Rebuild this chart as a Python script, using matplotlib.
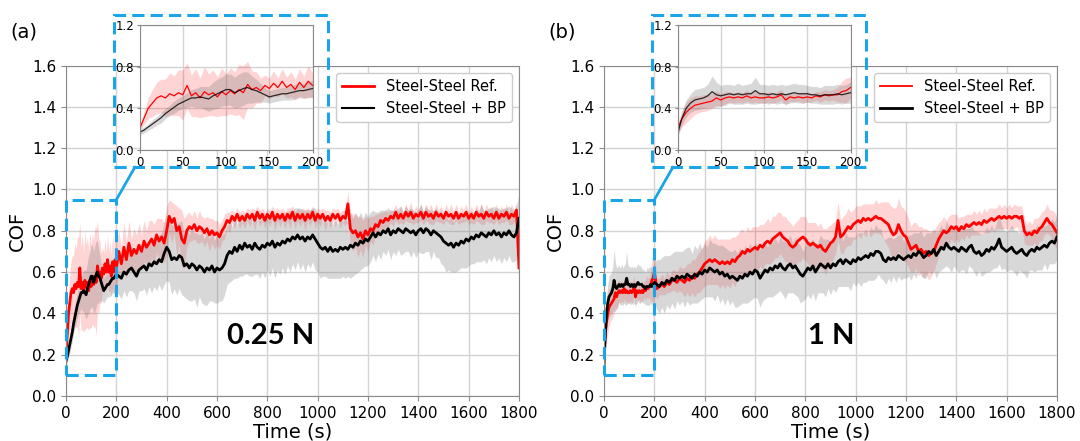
import numpy as np
import matplotlib.pyplot as plt
from matplotlib.patches import Rectangle, ConnectionPatch
from matplotlib.lines import Line2D

# sampling times: every 5 s up to 200 s, then every 10 s
t = np.concatenate([np.arange(0, 201, 5), np.arange(210, 1801, 10)])
n_zoom = 41  # points with t <= 200 (shown in the insets)

# ---- 0.25 N ----
ref_025 = [
    0.20, 0.30, 0.40, 0.45, 0.50, 0.52, 0.50, 0.54, 0.52, 0.55,
    0.53, 0.62, 0.52, 0.55, 0.50, 0.56, 0.53, 0.55, 0.51, 0.56,
    0.53, 0.57, 0.54, 0.58, 0.55, 0.63, 0.58, 0.60, 0.57, 0.62,
    0.59, 0.64, 0.60, 0.66, 0.60, 0.63, 0.58, 0.65, 0.60, 0.66,
    0.62,
    0.70, 0.64, 0.72, 0.66, 0.74, 0.68, 0.71, 0.69, 0.73, 0.70,
    0.75, 0.72, 0.74, 0.76, 0.73, 0.78, 0.75, 0.77, 0.74, 0.80,
    0.87, 0.84, 0.86, 0.80, 0.82, 0.76, 0.74, 0.80, 0.82, 0.81,
    0.83, 0.80, 0.82, 0.81, 0.79, 0.81, 0.78, 0.80, 0.78, 0.79,
    0.77, 0.80, 0.82, 0.85, 0.84, 0.87, 0.85, 0.88, 0.85, 0.87,
    0.85, 0.88, 0.86, 0.88, 0.85, 0.89, 0.86, 0.88, 0.85, 0.88,
    0.86, 0.89, 0.85, 0.88, 0.86, 0.88, 0.85, 0.88, 0.86, 0.89,
    0.85, 0.88, 0.86, 0.88, 0.85, 0.88, 0.86, 0.89, 0.85, 0.88,
    0.86, 0.88, 0.85, 0.87, 0.85, 0.88, 0.86, 0.88, 0.85, 0.87,
    0.86, 0.93, 0.81, 0.79, 0.80, 0.77, 0.79, 0.76, 0.80, 0.78,
    0.81, 0.80, 0.83, 0.82, 0.85, 0.84, 0.86, 0.85, 0.87, 0.86,
    0.89, 0.86, 0.88, 0.86, 0.89, 0.87, 0.89, 0.86, 0.88, 0.87,
    0.89, 0.86, 0.89, 0.87, 0.88, 0.86, 0.89, 0.87, 0.88, 0.86,
    0.89, 0.87, 0.88, 0.86, 0.89, 0.86, 0.88, 0.87, 0.89, 0.86,
    0.88, 0.86, 0.89, 0.87, 0.88, 0.86, 0.89, 0.87, 0.88, 0.86,
    0.89, 0.86, 0.88, 0.87, 0.89, 0.86, 0.88, 0.87, 0.90, 0.62,
]
ref_025_sd = [
    0.02, 0.06, 0.10, 0.13, 0.15, 0.16, 0.18, 0.20, 0.19, 0.22,
    0.24, 0.22, 0.20, 0.23, 0.19, 0.24, 0.20, 0.22, 0.19, 0.23,
    0.20, 0.22, 0.21, 0.24, 0.26, 0.22, 0.18, 0.15, 0.12, 0.10,
    0.10, 0.12, 0.09, 0.12, 0.10, 0.12, 0.10, 0.13, 0.11, 0.15,
    0.12,
    0.10, 0.08, 0.12, 0.09, 0.11, 0.08, 0.10, 0.09, 0.11, 0.08,
    0.10, 0.08, 0.11, 0.09, 0.10, 0.08, 0.11, 0.09, 0.10, 0.12,
    0.08, 0.10, 0.07, 0.12, 0.09, 0.14, 0.12, 0.08, 0.07, 0.06,
    0.07, 0.06, 0.08, 0.06, 0.07, 0.06, 0.08, 0.06, 0.07, 0.06,
    0.06, 0.05, 0.06, 0.04, 0.05, 0.03, 0.04, 0.03, 0.04, 0.03,
    0.04, 0.03, 0.04, 0.03, 0.05, 0.03, 0.04, 0.03, 0.04, 0.03,
    0.04, 0.03, 0.05, 0.03, 0.04, 0.03, 0.04, 0.03, 0.05, 0.03,
    0.04, 0.03, 0.04, 0.03, 0.05, 0.03, 0.04, 0.03, 0.04, 0.03,
    0.04, 0.03, 0.05, 0.03, 0.04, 0.03, 0.04, 0.03, 0.04, 0.03,
    0.04, 0.06, 0.08, 0.09, 0.08, 0.10, 0.08, 0.09, 0.07, 0.08,
    0.06, 0.07, 0.05, 0.06, 0.04, 0.05, 0.04, 0.04, 0.03, 0.04,
    0.04, 0.03, 0.04, 0.03, 0.04, 0.03, 0.05, 0.03, 0.04, 0.03,
    0.04, 0.03, 0.04, 0.03, 0.05, 0.03, 0.04, 0.03, 0.04, 0.03,
    0.04, 0.03, 0.05, 0.03, 0.04, 0.03, 0.04, 0.03, 0.04, 0.03,
    0.04, 0.03, 0.04, 0.03, 0.05, 0.03, 0.04, 0.03, 0.04, 0.03,
    0.04, 0.03, 0.04, 0.03, 0.04, 0.03, 0.05, 0.03, 0.04, 0.03,
]
bp_025 = [
    0.17, 0.19, 0.22, 0.25, 0.28, 0.31, 0.35, 0.38, 0.41, 0.44,
    0.46, 0.48, 0.50, 0.50, 0.51, 0.50, 0.49, 0.52, 0.54, 0.56,
    0.58, 0.58, 0.55, 0.57, 0.59, 0.60, 0.58, 0.57, 0.55, 0.53,
    0.51, 0.52, 0.53, 0.54, 0.54, 0.55, 0.56, 0.57, 0.57, 0.58,
    0.59,
    0.58, 0.57, 0.60, 0.59, 0.61, 0.62, 0.60, 0.58, 0.61, 0.62,
    0.63, 0.61, 0.64, 0.63, 0.65, 0.64, 0.66, 0.65, 0.69, 0.72,
    0.70, 0.66, 0.67, 0.66, 0.68, 0.67, 0.63, 0.64, 0.62, 0.64,
    0.63, 0.61, 0.63, 0.62, 0.60, 0.62, 0.61, 0.63, 0.60, 0.62,
    0.61, 0.62, 0.64, 0.68, 0.70, 0.69, 0.72, 0.70, 0.73, 0.71,
    0.74, 0.72, 0.73, 0.71, 0.74, 0.72, 0.71, 0.73, 0.72, 0.74,
    0.73, 0.75, 0.72, 0.74, 0.73, 0.75, 0.74, 0.76, 0.75, 0.77,
    0.76, 0.78, 0.76, 0.77, 0.75, 0.77, 0.76, 0.78, 0.76, 0.74,
    0.72, 0.71, 0.72, 0.70, 0.72, 0.70, 0.71, 0.70, 0.72, 0.71,
    0.72, 0.71, 0.73, 0.72, 0.74, 0.73, 0.75, 0.74, 0.76, 0.75,
    0.77, 0.79, 0.77, 0.79, 0.78, 0.80, 0.79, 0.81, 0.78, 0.80,
    0.79, 0.81, 0.80, 0.79, 0.81, 0.80, 0.79, 0.80, 0.78, 0.80,
    0.81, 0.79, 0.81, 0.80, 0.78, 0.80, 0.79, 0.78, 0.77, 0.75,
    0.74, 0.73, 0.74, 0.72, 0.74, 0.73, 0.75, 0.74, 0.76, 0.75,
    0.77, 0.76, 0.78, 0.77, 0.79, 0.78, 0.77, 0.79, 0.78, 0.80,
    0.78, 0.79, 0.77, 0.79, 0.78, 0.80, 0.78, 0.77, 0.79, 0.86,
]
bp_025_sd = [
    0.02, 0.03, 0.03, 0.04, 0.04, 0.05, 0.05, 0.05, 0.06, 0.06,
    0.06, 0.07, 0.08, 0.09, 0.10, 0.11, 0.12, 0.13, 0.14, 0.14,
    0.15, 0.15, 0.15, 0.16, 0.16, 0.15, 0.13, 0.11, 0.09, 0.07,
    0.06, 0.06, 0.06, 0.06, 0.06, 0.07, 0.07, 0.07, 0.07, 0.08,
    0.08,
    0.09, 0.10, 0.09, 0.11, 0.10, 0.11, 0.10, 0.12, 0.10, 0.11,
    0.11, 0.12, 0.11, 0.13, 0.12, 0.13, 0.12, 0.14, 0.15, 0.16,
    0.15, 0.17, 0.15, 0.17, 0.16, 0.18, 0.15, 0.17, 0.16, 0.18,
    0.16, 0.18, 0.15, 0.17, 0.16, 0.18, 0.15, 0.17, 0.15, 0.17,
    0.15, 0.16, 0.15, 0.14, 0.15, 0.13, 0.15, 0.13, 0.15, 0.13,
    0.15, 0.13, 0.15, 0.13, 0.15, 0.13, 0.14, 0.13, 0.15, 0.13,
    0.15, 0.13, 0.15, 0.13, 0.14, 0.13, 0.15, 0.13, 0.15, 0.13,
    0.15, 0.13, 0.15, 0.13, 0.15, 0.13, 0.14, 0.13, 0.15, 0.14,
    0.15, 0.13, 0.14, 0.13, 0.15, 0.13, 0.14, 0.13, 0.15, 0.13,
    0.15, 0.13, 0.16, 0.14, 0.15, 0.13, 0.14, 0.12, 0.13, 0.12,
    0.12, 0.11, 0.12, 0.10, 0.12, 0.10, 0.11, 0.10, 0.12, 0.10,
    0.11, 0.10, 0.12, 0.10, 0.11, 0.10, 0.12, 0.10, 0.11, 0.10,
    0.12, 0.10, 0.11, 0.10, 0.12, 0.10, 0.12, 0.11, 0.13, 0.12,
    0.14, 0.12, 0.14, 0.12, 0.14, 0.12, 0.13, 0.12, 0.14, 0.12,
    0.13, 0.12, 0.13, 0.12, 0.14, 0.12, 0.13, 0.12, 0.13, 0.12,
    0.13, 0.12, 0.13, 0.12, 0.13, 0.12, 0.13, 0.12, 0.13, 0.12,
]

# ---- 1 N ----
ref_1 = [
    0.20, 0.30, 0.36, 0.40, 0.43, 0.44, 0.45, 0.46, 0.47, 0.50,
    0.48, 0.50, 0.51, 0.50, 0.51, 0.50, 0.52, 0.50, 0.51, 0.50,
    0.50, 0.51, 0.50, 0.51, 0.53, 0.48, 0.51, 0.50, 0.51, 0.50,
    0.51, 0.50, 0.52, 0.51, 0.53, 0.52, 0.53, 0.53, 0.56, 0.57,
    0.60,
    0.52, 0.53, 0.54, 0.53, 0.55, 0.54, 0.56, 0.56, 0.55, 0.57,
    0.56, 0.55, 0.57, 0.56, 0.58, 0.57, 0.59, 0.60, 0.62, 0.64,
    0.65, 0.66, 0.65, 0.66, 0.65, 0.64, 0.65, 0.64, 0.65, 0.64,
    0.66, 0.65, 0.67, 0.68, 0.70, 0.69, 0.71, 0.70, 0.71, 0.72,
    0.71, 0.73, 0.72, 0.74, 0.75, 0.74, 0.76, 0.77, 0.78, 0.79,
    0.77, 0.76, 0.75, 0.73, 0.72, 0.73, 0.75, 0.76, 0.77, 0.76,
    0.74, 0.73, 0.74, 0.73, 0.72, 0.73, 0.71, 0.70, 0.72, 0.74,
    0.75, 0.77, 0.85, 0.77, 0.78, 0.80, 0.82, 0.81, 0.83, 0.84,
    0.85, 0.84, 0.86, 0.85, 0.86, 0.85, 0.86, 0.87, 0.86, 0.86,
    0.85, 0.84, 0.83, 0.80, 0.78, 0.79, 0.83, 0.80, 0.78, 0.77,
    0.74, 0.71, 0.72, 0.73, 0.70, 0.71, 0.69, 0.70, 0.68, 0.69,
    0.70, 0.73, 0.76, 0.78, 0.80, 0.79, 0.80, 0.82, 0.81, 0.82,
    0.80, 0.82, 0.81, 0.83, 0.82, 0.83, 0.84, 0.83, 0.84, 0.83,
    0.85, 0.84, 0.85, 0.86, 0.85, 0.86, 0.87, 0.86, 0.87, 0.86,
    0.87, 0.86, 0.87, 0.87, 0.86, 0.87, 0.80, 0.78, 0.79, 0.78,
    0.80, 0.79, 0.81, 0.82, 0.84, 0.86, 0.84, 0.83, 0.81, 0.79,
]
ref_1_sd = [
    0.05, 0.08, 0.10, 0.10, 0.09, 0.08, 0.08, 0.08, 0.07, 0.07,
    0.06, 0.06, 0.05, 0.05, 0.05, 0.05, 0.05, 0.05, 0.05, 0.05,
    0.05, 0.05, 0.05, 0.05, 0.05, 0.05, 0.04, 0.04, 0.04, 0.05,
    0.05, 0.04, 0.04, 0.05, 0.05, 0.05, 0.05, 0.07, 0.10, 0.12,
    0.10,
    0.05, 0.04, 0.05, 0.04, 0.05, 0.04, 0.05, 0.05, 0.05, 0.06,
    0.06, 0.07, 0.07, 0.08, 0.08, 0.09, 0.09, 0.10, 0.10, 0.11,
    0.11, 0.12, 0.11, 0.12, 0.11, 0.12, 0.11, 0.12, 0.11, 0.12,
    0.11, 0.12, 0.11, 0.12, 0.11, 0.10, 0.11, 0.10, 0.11, 0.10,
    0.11, 0.10, 0.11, 0.10, 0.11, 0.10, 0.11, 0.10, 0.11, 0.10,
    0.10, 0.11, 0.10, 0.11, 0.10, 0.11, 0.10, 0.11, 0.10, 0.11,
    0.10, 0.11, 0.10, 0.11, 0.10, 0.11, 0.10, 0.11, 0.10, 0.09,
    0.09, 0.08, 0.09, 0.08, 0.09, 0.08, 0.09, 0.08, 0.07, 0.08,
    0.07, 0.08, 0.07, 0.08, 0.07, 0.08, 0.07, 0.08, 0.07, 0.08,
    0.09, 0.10, 0.11, 0.12, 0.13, 0.12, 0.13, 0.12, 0.13, 0.12,
    0.12, 0.11, 0.12, 0.11, 0.12, 0.11, 0.12, 0.11, 0.12, 0.11,
    0.10, 0.09, 0.08, 0.07, 0.07, 0.06, 0.07, 0.06, 0.07, 0.06,
    0.06, 0.05, 0.06, 0.05, 0.06, 0.05, 0.06, 0.05, 0.06, 0.05,
    0.06, 0.05, 0.06, 0.05, 0.06, 0.05, 0.06, 0.05, 0.06, 0.05,
    0.06, 0.05, 0.06, 0.05, 0.06, 0.05, 0.06, 0.05, 0.06, 0.05,
    0.06, 0.07, 0.06, 0.07, 0.06, 0.07, 0.06, 0.07, 0.08, 0.08,
]
bp_1 = [
    0.15, 0.30, 0.40, 0.45, 0.48, 0.49, 0.50, 0.52, 0.56, 0.53,
    0.52, 0.53, 0.54, 0.53, 0.54, 0.53, 0.54, 0.54, 0.57, 0.54,
    0.54, 0.53, 0.54, 0.53, 0.54, 0.53, 0.54, 0.55, 0.54, 0.54,
    0.54, 0.53, 0.53, 0.52, 0.53, 0.53, 0.53, 0.54, 0.53, 0.54,
    0.55,
    0.54, 0.53, 0.55, 0.54, 0.56, 0.55, 0.57, 0.56, 0.58, 0.57,
    0.58, 0.57, 0.59, 0.58, 0.57, 0.59, 0.58, 0.60, 0.59, 0.61,
    0.60, 0.62, 0.61, 0.60, 0.61, 0.59, 0.60, 0.58, 0.59, 0.57,
    0.58, 0.57, 0.56, 0.58, 0.57, 0.59, 0.58, 0.60, 0.59, 0.61,
    0.60, 0.57, 0.59, 0.61, 0.60, 0.62, 0.61, 0.63, 0.62, 0.64,
    0.62, 0.61, 0.63, 0.64, 0.62, 0.63, 0.61, 0.59, 0.58, 0.60,
    0.62, 0.61, 0.63, 0.60, 0.62, 0.64, 0.63, 0.62, 0.64, 0.62,
    0.64, 0.63, 0.65, 0.66, 0.64, 0.66, 0.65, 0.64, 0.66, 0.65,
    0.67, 0.66, 0.67, 0.68, 0.67, 0.69, 0.68, 0.70, 0.70, 0.69,
    0.66, 0.65, 0.67, 0.66, 0.67, 0.66, 0.68, 0.67, 0.66, 0.67,
    0.68, 0.67, 0.69, 0.68, 0.70, 0.69, 0.67, 0.68, 0.70, 0.69,
    0.71, 0.68, 0.70, 0.72, 0.71, 0.74, 0.72, 0.71, 0.72, 0.71,
    0.70, 0.72, 0.71, 0.70, 0.72, 0.73, 0.70, 0.69, 0.70, 0.68,
    0.69, 0.71, 0.70, 0.72, 0.71, 0.73, 0.76, 0.72, 0.71, 0.70,
    0.71, 0.72, 0.70, 0.69, 0.70, 0.71, 0.69, 0.68, 0.70, 0.71,
    0.70, 0.72, 0.71, 0.72, 0.73, 0.72, 0.74, 0.75, 0.74, 0.77,
]
bp_1_sd = [
    0.03, 0.06, 0.08, 0.09, 0.10, 0.10, 0.10, 0.11, 0.15, 0.12,
    0.10, 0.10, 0.09, 0.09, 0.10, 0.09, 0.09, 0.10, 0.13, 0.09,
    0.09, 0.09, 0.09, 0.09, 0.09, 0.09, 0.09, 0.09, 0.09, 0.09,
    0.08, 0.08, 0.08, 0.08, 0.09, 0.09, 0.09, 0.09, 0.09, 0.09,
    0.10,
    0.12, 0.13, 0.12, 0.14, 0.12, 0.13, 0.12, 0.14, 0.12, 0.13,
    0.12, 0.14, 0.13, 0.14, 0.12, 0.14, 0.13, 0.14, 0.12, 0.13,
    0.12, 0.14, 0.13, 0.14, 0.12, 0.14, 0.13, 0.14, 0.12, 0.13,
    0.12, 0.14, 0.13, 0.14, 0.12, 0.14, 0.13, 0.14, 0.12, 0.13,
    0.13, 0.14, 0.13, 0.14, 0.12, 0.14, 0.13, 0.14, 0.12, 0.13,
    0.13, 0.14, 0.13, 0.14, 0.12, 0.14, 0.13, 0.14, 0.12, 0.13,
    0.13, 0.14, 0.13, 0.14, 0.12, 0.14, 0.13, 0.14, 0.12, 0.13,
    0.12, 0.13, 0.12, 0.13, 0.11, 0.13, 0.12, 0.13, 0.11, 0.12,
    0.12, 0.13, 0.12, 0.13, 0.11, 0.13, 0.12, 0.13, 0.11, 0.12,
    0.10, 0.11, 0.10, 0.11, 0.09, 0.11, 0.10, 0.11, 0.09, 0.10,
    0.10, 0.11, 0.10, 0.11, 0.09, 0.11, 0.10, 0.11, 0.09, 0.10,
    0.10, 0.11, 0.10, 0.11, 0.09, 0.11, 0.10, 0.11, 0.09, 0.10,
    0.10, 0.11, 0.10, 0.11, 0.09, 0.11, 0.10, 0.11, 0.09, 0.10,
    0.10, 0.11, 0.10, 0.11, 0.09, 0.11, 0.12, 0.11, 0.09, 0.10,
    0.10, 0.11, 0.10, 0.11, 0.09, 0.11, 0.10, 0.11, 0.09, 0.10,
    0.10, 0.11, 0.10, 0.11, 0.09, 0.11, 0.10, 0.11, 0.10, 0.11,
]

labels = ['Steel-Steel Ref.', 'Steel-Steel + BP']
loads = ['0.25 N', '1 N']
tags = ['(a)', '(b)']

BLUE = '#1aa5e8'
SPINE = '#8a8a8a'
W, H = 1080, 441


def px(x0, y0, x1, y1):
    # pixel box (top-left origin) -> figure fraction rect
    return [x0 / W, 1 - y1 / H, (x1 - x0) / W, (y1 - y0) / H]


def style(ax, size):
    for s in ax.spines.values():
        s.set_color(SPINE)
    ax.grid(color='#d3d3d3', lw=1)
    ax.set_axisbelow(True)
    ax.tick_params(labelsize=size, color=SPINE, length=3.5)


def panel(left, red, red_sd, blk, blk_sd, load, load_x, tag, lw_leg):
    red, red_sd = np.array(red), np.array(red_sd)
    blk, blk_sd = np.array(blk), np.array(blk_sd)

    ax = fig.add_axes(px(left, 65.5, left + 453, 396))
    ax.fill_between(t, red - red_sd, red + red_sd, color='red', alpha=0.17, lw=0)
    ax.fill_between(t, blk - blk_sd, blk + blk_sd, color='gray', alpha=0.3, lw=0)
    ax.plot(t, red, color='red', lw=2)
    ax.plot(t, blk, color='black', lw=2)
    ax.set_xlim(0, 1800)
    ax.set_ylim(0, 1.6)
    ax.set_xticks(np.arange(0, 1801, 200))
    ax.set_yticks(np.arange(0, 1.61, 0.2))
    ax.yaxis.set_major_formatter('{x:.1f}')
    style(ax, 11)
    ax.set_xlabel('Time (s)', fontsize=14, labelpad=1)
    ax.set_ylabel('COF', fontsize=14, labelpad=4)
    handles = [Line2D([], [], color='red', lw=lw_leg[0]),
               Line2D([], [], color='black', lw=lw_leg[1])]
    ax.legend(handles, labels, loc='upper right', fontsize=10.5,
              framealpha=1, edgecolor='#cccccc', handlelength=2.2)
    ax.text(load_x, 0.29, load, ha='center', va='center', fontsize=21,
            fontweight='bold', family=['Lato', 'DejaVu Sans'])

    # zoom window on the first 200 s, linked to the inset frame
    ax.add_patch(Rectangle((0, 0.1), 200, 0.85, fill=False, ec=BLUE, lw=2.2,
                           ls=(0, (4, 2)), clip_on=False, zorder=6))
    box_l = left + 48
    fig.add_artist(Rectangle((box_l / W, 1 - 167 / H), 214 / W, 152 / H,
                             transform=fig.transFigure, fill=False, ec=BLUE,
                             lw=2.2, ls=(0, (4, 2)), zorder=6))
    con = ConnectionPatch(xyA=(200, 0.95), coordsA=ax.transData,
                          xyB=((left + 69) / W, 1 - 167 / H),
                          coordsB=fig.transFigure, color=BLUE, lw=2, zorder=6)
    fig.add_artist(con)

    ins = fig.add_axes(px(left + 73.5, 25, left + 246.5, 150))
    z = slice(0, n_zoom)
    ins.fill_between(t[z], (red - red_sd)[z], (red + red_sd)[z], color='red', alpha=0.17, lw=0)
    ins.fill_between(t[z], (blk - blk_sd)[z], (blk + blk_sd)[z], color='gray', alpha=0.3, lw=0)
    ins.plot(t[z], red[z], color='red', lw=0.9)
    ins.plot(t[z], blk[z], color='black', lw=0.9, alpha=0.8)
    ins.set_xlim(0, 200)
    ins.set_ylim(0, 1.2)
    ins.set_xticks([0, 50, 100, 150, 200])
    ins.set_yticks([0, 0.4, 0.8, 1.2])
    ins.yaxis.set_major_formatter('{x:.1f}')
    style(ins, 8.5)
    ins.tick_params(pad=1.5, length=2.5)

    fig.text((left - 56) / W, 1 - 32 / H, tag, fontsize=14, va='center')


fig = plt.figure(figsize=(W / 100, H / 100), dpi=100)
panel(66, ref_025, ref_025_sd, bp_025, bp_025_sd, loads[0], 814, tags[0], (2, 1.5))
panel(604, ref_1, ref_1_sd, bp_1, bp_1_sd, loads[1], 903, tags[1], (1.3, 2))
fig.savefig('out.png', dpi=100)
